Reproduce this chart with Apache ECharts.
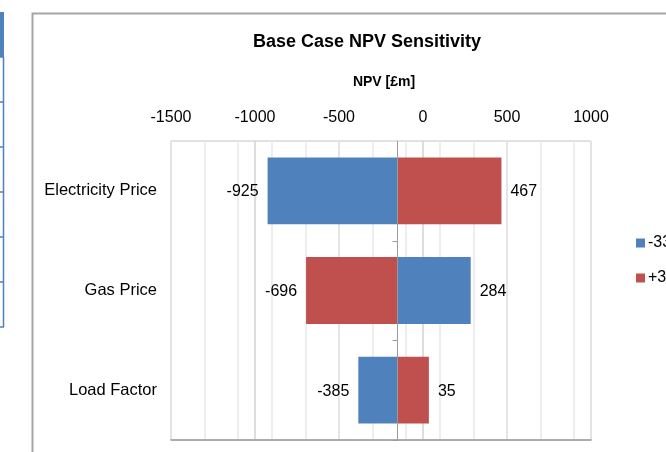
<!DOCTYPE html>
<html>
<head>
<meta charset="utf-8">
<title>Base Case NPV Sensitivity</title>
<script src="https://cdn.jsdelivr.net/npm/echarts@6/dist/echarts.min.js"></script>
<style>
    html, body { margin: 0; padding: 0; background: #fff; }
    #chart { width: 666px; height: 452px; }
</style>
</head>
<body>
<div id="chart"></div>
<script>
// data
var categories = ['Electricity Price', 'Gas Price', 'Load Factor'];
var lowCase = [-925, 284, -385];     // blue, "-33%"
var highCase = [467, -696, 35];      // red, "+33%"
var baseNpv = -152;                  // where the bars meet
var seriesNames = ['-33%', '+33%'];
var tickLabels = [-1500, -1000, -500, 0, 500, 1000];

var FONT = '"Liberation Sans", Arial, sans-serif';
var BLUE = '#4f81bd';
var RED = '#c0504d';

var chart = echarts.init(document.getElementById('chart'));

function barItem(params, api) {
    var idx = api.value(0);
    var val = api.value(1);
    var p0 = api.coord([baseNpv, idx]);
    var p1 = api.coord([val, idx]);
    var band = api.size([0, 1])[1];
    var h = band * 0.67;
    var x = Math.min(p0[0], p1[0]);
    var w = Math.abs(p1[0] - p0[0]);
    var neg = val < baseNpv;
    return {
        type: 'group',
        children: [{
            type: 'rect',
            shape: { x: x, y: p0[1] - h / 2, width: w, height: h },
            style: { fill: api.visual('color') }
        }, {
            type: 'text',
            x: neg ? p1[0] - 9 : p1[0] + 9,
            y: p0[1] + 1,
            style: {
                text: String(val),
                fill: '#000',
                font: '16px ' + FONT,
                align: neg ? 'right' : 'left',
                verticalAlign: 'middle'
            }
        }]
    };
}

function axisItem(params, api) {
    var idx = api.value(0);
    var p = api.coord([baseNpv, idx]);
    var band = api.size([0, 1])[1];
    var x = Math.round(p[0]) + 0.5;
    var yb = Math.round(p[1] + band / 2) + 0.5;
    return {
        type: 'group',
        children: [{
            type: 'line',
            shape: { x1: x, y1: p[1] - band / 2, x2: x, y2: p[1] + band / 2 },
            style: { stroke: '#9a9a9a', lineWidth: 1 }
        }, {
            type: 'line',
            shape: { x1: x - 5, y1: yb, x2: x, y2: yb },
            style: { stroke: '#9a9a9a', lineWidth: 1 }
        }]
    };
}

// spreadsheet bits around the chart
var deco = [];
deco.push({ type: 'rect', shape: { x: 0, y: 12, width: 4, height: 45 }, style: { fill: BLUE } });
for (var r = 0; r < 7; r++) {
    deco.push({ type: 'line', shape: { x1: 0, y1: 57 + r * 45, x2: 4, y2: 57 + r * 45 },
        style: { stroke: BLUE, lineWidth: 1.5 } });
}
deco.push({ type: 'line', shape: { x1: 3.5, y1: 57, x2: 3.5, y2: 327 }, style: { stroke: BLUE, lineWidth: 1.5 } });
deco.push({ type: 'polyline', shape: { points: [[32.5, 452], [32.5, 13.5], [666, 13.5]] },
    style: { stroke: '#a6a6a6', lineWidth: 2, fill: null } });
deco.push({ type: 'text', x: 367, y: 42,
    style: { text: 'Base Case NPV Sensitivity', font: 'bold 18px ' + FONT, fill: '#000', align: 'center', verticalAlign: 'middle' } });
deco.push({ type: 'text', x: 384, y: 82,
    style: { text: 'NPV [£m]', font: 'bold 14px ' + FONT, fill: '#000', align: 'center', verticalAlign: 'middle' } });

var option = {
    animation: false,
    grid: {
        left: 171, top: 141, right: 75, bottom: 12,
        show: true, borderColor: '#c4c4c4', borderWidth: 1
    },
    legend: {
        orient: 'vertical',
        left: 631, top: 230,
        itemWidth: 9, itemHeight: 9, itemGap: 19,
        icon: 'rect',
        data: seriesNames,
        textStyle: { fontFamily: FONT, fontSize: 16, color: '#000', padding: [0, 0, 0, -2] }
    },
    xAxis: [{
        type: 'value',
        position: 'top',
        min: tickLabels[0],
        max: tickLabels[tickLabels.length - 1],
        interval: 500,
        axisLine: { show: false },
        axisTick: { show: false },
        axisLabel: {
            fontFamily: FONT, fontSize: 16, color: '#000', margin: 15,
            formatter: function (v) { return String(v); }
        },
        splitLine: { lineStyle: { color: '#d2d2d2', width: 1.5 } }
    }, {
        // minor grid every 200 from -1500
        type: 'value',
        position: 'bottom',
        min: 0, max: 2500, interval: 200,
        axisLine: { show: true, lineStyle: { color: '#9a9a9a', width: 1.5 } },
        axisTick: { show: false },
        axisLabel: { show: false },
        splitLine: { lineStyle: { color: '#e8e8e8', width: 1.5 } }
    }],
    yAxis: {
        type: 'category',
        inverse: true,
        data: categories,
        axisLine: { show: false },
        axisTick: { show: false },
        axisLabel: { fontFamily: FONT, fontSize: 16.5, color: '#000', margin: 14 },
        splitLine: { show: false }
    },
    series: [{
        name: 'axis',
        type: 'custom',
        silent: true,
        renderItem: axisItem,
        encode: { x: 1, y: 0 },
        data: categories.map(function (c, i) { return [i, baseNpv]; }),
        z: 3
    }, {
        name: seriesNames[0],
        type: 'custom',
        itemStyle: { color: BLUE },
        renderItem: barItem,
        encode: { x: 1, y: 0 },
        data: lowCase.map(function (v, i) { return [i, v]; }),
        z: 2
    }, {
        name: seriesNames[1],
        type: 'custom',
        itemStyle: { color: RED },
        renderItem: barItem,
        encode: { x: 1, y: 0 },
        data: highCase.map(function (v, i) { return [i, v]; }),
        z: 2
    }],
    graphic: deco
};

chart.setOption(option);
</script>
</body>
</html>
